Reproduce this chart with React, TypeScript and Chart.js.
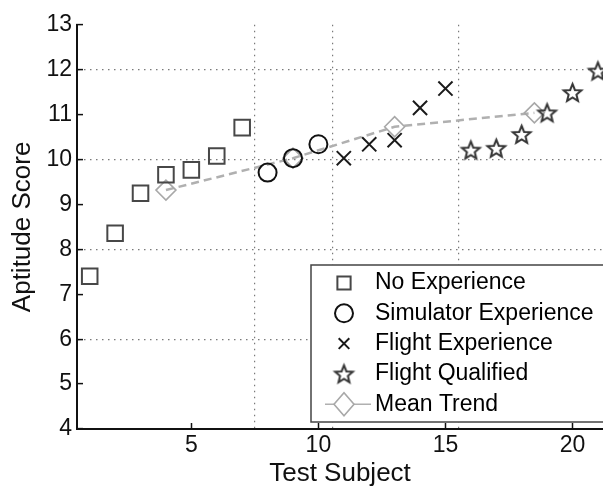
import React, { useEffect, useRef } from 'react';
import { Chart, registerables } from 'chart.js';

Chart.register(...registerables);

// ---- data ----
const noExpSubjects = [1, 2, 3, 4, 5, 6, 7];
const noExpScores = [7.4, 8.36, 9.25, 9.66, 9.77, 10.08, 10.71];

const simSubjects = [8, 9, 10];
const simScores = [9.71, 10.03, 10.34];

const flightExpSubjects = [11, 12, 13, 14, 15];
const flightExpScores = [10.03, 10.34, 10.43, 11.15, 11.58];

const qualSubjects = [16, 17, 18, 19, 20, 21];
const qualScores = [10.21, 10.25, 10.56, 11.04, 11.49, 11.97];

const meanSubjects = [4, 9, 13, 18.5];
const meanScores = [9.32, 10.03, 10.73, 11.04];

const seriesLabels = ['No Experience', 'Simulator Experience', 'Flight Experience', 'Flight Qualified', 'Mean Trend'];

const xTickValues = [5, 10, 15, 20];
const xGridValues = [7.5, 10.55, 15.5];
const yTickValues = [4, 5, 6, 7, 8, 9, 10, 11, 12, 13];
const yGridValues = [6, 8, 10, 12];

const FONT = '"Liberation Sans", Arial, Helvetica, sans-serif';

function makeStar(color: string, R: number, ratio: number, lw: number): HTMLCanvasElement {
  const size = Math.ceil(2 * R + lw * 2 + 2);
  const c = document.createElement('canvas');
  c.width = size;
  c.height = size;
  const g = c.getContext('2d')!;
  const cx = size / 2;
  const cy = size / 2 + R * 0.08;
  g.beginPath();
  for (let k = 0; k < 10; k++) {
    const a = -Math.PI / 2 + (k * Math.PI) / 5;
    const r = k % 2 === 0 ? R : R * ratio;
    const px = cx + r * Math.cos(a);
    const py = cy + r * Math.sin(a);
    if (k === 0) g.moveTo(px, py);
    else g.lineTo(px, py);
  }
  g.closePath();
  g.strokeStyle = color;
  g.lineWidth = lw;
  g.lineJoin = 'miter';
  g.stroke();
  return c;
}

const toPoints = (xs: number[], ys: number[]) => xs.map((x, i) => ({ x, y: ys[i] }));

export default function App() {
  const ref = useRef<HTMLCanvasElement>(null);

  useEffect(() => {
    if (!ref.current) return;
    const star = makeStar('#333', 9.3, 0.44, 2);

    const legendPlugin = {
      id: 'insetLegend',
      afterDraw(chart: any) {
        const { ctx, chartArea } = chart;
        const left = chartArea.right - 292;
        const top = chartArea.bottom - 164;
        const bottom = chartArea.bottom - 7;
        ctx.save();
        ctx.fillStyle = '#fff';
        ctx.fillRect(left, top, chartArea.right + 20 - left, bottom - top);
        ctx.strokeStyle = '#444';
        ctx.lineWidth = 1.5;
        ctx.strokeRect(left, top, chartArea.right + 20 - left, bottom - top);
        const mx = left + 33;
        const tx = left + 64;
        chart.data.datasets.forEach((ds: any, i: number) => {
          const cy = top + 18 + i * 30.3;
          ctx.save();
          ctx.strokeStyle = ds.pointBorderColor || ds.borderColor;
          ctx.lineWidth = ds.pointBorderWidth || ds.borderWidth || 2;
          const r = ds.pointRadius;
          const st = ds.pointStyle;
          if (ds.showLine) {
            ctx.save();
            ctx.strokeStyle = ds.borderColor;
            ctx.lineWidth = 1.5;
            ctx.beginPath();
            ctx.moveTo(mx - 19, cy);
            ctx.lineTo(mx + 27, cy);
            ctx.stroke();
            ctx.restore();
          }
          if (typeof st !== 'string') {
            ctx.drawImage(st, mx - st.width / 2, cy - st.height / 2);
          } else {
            ctx.beginPath();
            if (st === 'rect') {
              const s = Math.SQRT1_2 * r * 0.85;
              ctx.rect(mx - s, cy - s, 2 * s, 2 * s);
            } else if (st === 'circle') {
              ctx.arc(mx, cy, r, 0, Math.PI * 2);
            } else if (st === 'crossRot') {
              const o = Math.SQRT1_2 * r * 0.75;
              ctx.moveTo(mx - o, cy - o);
              ctx.lineTo(mx + o, cy + o);
              ctx.moveTo(mx + o, cy - o);
              ctx.lineTo(mx - o, cy + o);
            } else if (st === 'rectRot') {
              ctx.moveTo(mx - r, cy);
              ctx.lineTo(mx, cy - r * 1.15);
              ctx.lineTo(mx + r, cy);
              ctx.lineTo(mx, cy + r * 1.15);
              ctx.closePath();
              if (ds.showLine) {
                ctx.fillStyle = '#fff';
                ctx.fill();
              }
            }
            ctx.stroke();
          }
          ctx.restore();
          ctx.fillStyle = '#000';
          ctx.font = `23px ${FONT}`;
          ctx.textAlign = 'left';
          ctx.textBaseline = 'middle';
          ctx.fillText(ds.label, tx, cy);
        });
        ctx.restore();
      },
    };

    const chart = new Chart(ref.current, {
      type: 'scatter',
      data: {
        datasets: [
          {
            label: seriesLabels[0],
            data: toPoints(noExpSubjects, noExpScores),
            pointStyle: 'rect',
            pointRadius: 11,
            pointBorderWidth: 2,
            pointBorderColor: '#474747',
            pointBackgroundColor: 'rgba(0,0,0,0)',
            borderColor: '#474747',
            clip: false,
          },
          {
            label: seriesLabels[1],
            data: toPoints(simSubjects, simScores),
            pointStyle: 'circle',
            pointRadius: 9,
            pointBorderWidth: 2,
            pointBorderColor: '#111',
            pointBackgroundColor: 'rgba(0,0,0,0)',
            borderColor: '#111',
            clip: false,
          },
          {
            label: seriesLabels[2],
            data: toPoints(flightExpSubjects, flightExpScores),
            pointStyle: 'crossRot',
            pointRadius: 10,
            pointBorderWidth: 2,
            pointBorderColor: '#1a1a1a',
            borderColor: '#1a1a1a',
            clip: false,
          },
          {
            label: seriesLabels[3],
            data: toPoints(qualSubjects, qualScores),
            pointStyle: star as any,
            pointRadius: 10,
            pointBorderColor: '#333',
            borderColor: '#333',
            clip: false,
          },
          {
            label: seriesLabels[4],
            data: toPoints(meanSubjects, meanScores),
            showLine: true,
            borderColor: '#b0b0b0',
            borderWidth: 2.5,
            borderDash: [8, 5],
            pointStyle: 'rectRot',
            pointRadius: 10,
            pointBorderWidth: 1.6,
            pointBorderColor: '#a8a8a8',
            pointBackgroundColor: 'rgba(0,0,0,0)',
            clip: false,
          } as any,
        ],
      },
      options: {
        responsive: false,
        animation: false,
        events: [],
        layout: { autoPadding: false, padding: { top: 16, right: 0, left: 0, bottom: 0 } },
        plugins: {
          legend: { display: false },
          tooltip: { enabled: false },
        },
        scales: {
          x: {
            type: 'linear',
            position: 'bottom',
            min: 0.5,
            max: 21.2,
            afterBuildTicks: (s: any) => {
              s.ticks = xTickValues.map((v) => ({ value: v }));
            },
            afterFit: (s: any) => {
              s.height = 62;
            },
            grid: {
              drawOnChartArea: false,
              drawTicks: true,
              tickLength: -6,
              tickColor: '#111',
              tickWidth: 1.5,
            },
            border: { display: true, color: '#111', width: 2 },
            ticks: {
              color: '#111',
              font: { family: FONT, size: 23 },
              padding: 9,
              maxRotation: 0,
              autoSkip: false,
            },
            title: {
              display: true,
              text: 'Test Subject',
              color: '#111',
              font: { family: FONT, size: 26 },
              padding: { top: 0, bottom: 1.5 },
            },
          },
          xg: {
            type: 'linear',
            position: 'bottom',
            min: 0.5,
            max: 21.2,
            afterBuildTicks: (s: any) => {
              s.ticks = xGridValues.map((v) => ({ value: v }));
            },
            grid: {
              drawOnChartArea: true,
              drawTicks: false,
              color: '#7a7a7a',
              lineWidth: 1.2,
            },
            border: { display: false, dash: [1.5, 4.5] },
            ticks: { display: false },
          },
          y: {
            type: 'linear',
            position: 'left',
            min: 4,
            max: 13,
            afterBuildTicks: (s: any) => {
              s.ticks = yTickValues.map((v) => ({ value: v }));
            },
            afterFit: (s: any) => {
              s.width = 77;
            },
            grid: {
              color: (c: any) => (c.tick && yGridValues.includes(c.tick.value) ? '#7a7a7a' : 'rgba(0,0,0,0)'),
              lineWidth: 1.2,
              drawTicks: true,
              tickLength: -6,
              tickColor: '#111',
              tickWidth: 1.5,
            },
            border: { display: true, color: '#111', width: 2, dash: [1.5, 4.5] },
            ticks: {
              color: '#111',
              font: { family: FONT, size: 23 },
              padding: 11,
              autoSkip: false,
            },
            title: {
              display: true,
              text: 'Aptitude Score',
              color: '#111',
              font: { family: FONT, size: 26 },
              padding: { top: 7.5, bottom: 0 },
            },
          },
        },
      } as any,
      plugins: [legendPlugin],
    });
    return () => chart.destroy();
  }, []);

  return (
    <div style={{ position: 'fixed', left: 0, top: 0, width: 603, height: 491, background: '#fff' }}>
      <canvas ref={ref} width={603} height={491} style={{ display: 'block' }} />
    </div>
  );
}
